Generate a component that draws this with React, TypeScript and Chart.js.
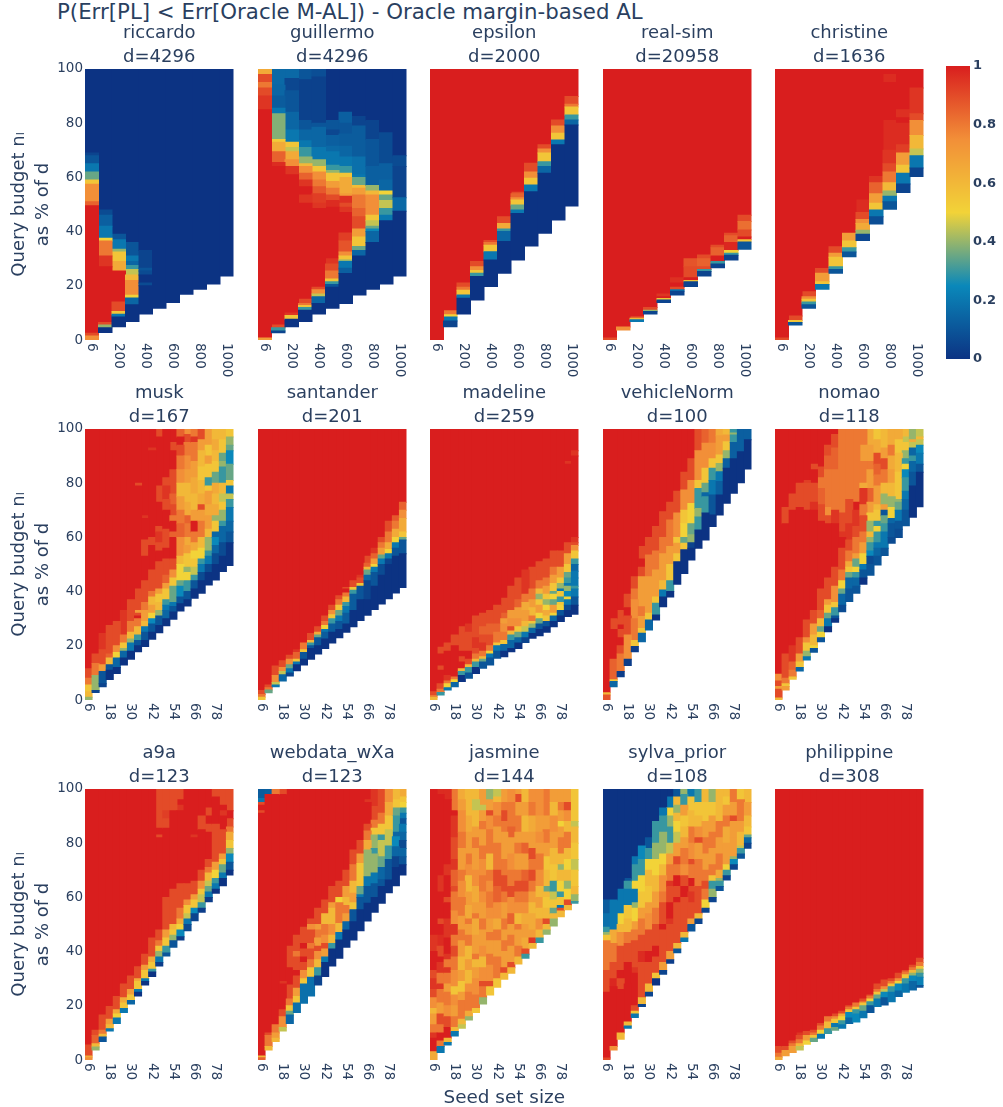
import React, { useEffect, useRef } from "react";
import { Chart, registerables } from "chart.js";

Chart.register(...registerables);

// Each column is [y0, v0, y1, v1, y2, ... yEnd]: value v(i) holds from y(i) to y(i+1). Values are on a 0-10 scale.
const seedLarge = [6, 100, 200, 300, 400, 500, 600, 700, 800, 900, 1000];
const seedSmall = [6, 10, 14, 18, 22, 26, 30, 34, 38, 42, 46, 50, 54, 58, 62, 66, 70, 74, 78, 82, 86];
const tickLarge = [6, 200, 400, 600, 800, 1000];
const tickSmall = [6, 18, 30, 42, 54, 66, 78];
const yTicks = [0, 20, 40, 60, 80, 100];
const colorStops: [number, number, number, number][] = [
  [0, 12, 51, 131], [0.25, 10, 136, 186], [0.5, 242, 211, 56], [0.75, 242, 143, 56], [1, 217, 30, 30],
];

const riccardo = [
  [0,7.5,1.5,9,2.5,10,49.5,8.5,51,7.5,57.5,5.5,59,3.5,62,2,65,1,68,0.5,69,0,100],
  [2.8,0,4.5,4,5.5,9,6.5,10,27,9.5,31,8,36.5,5,37.5,2,42,1.3,46,.7,48,0,100],
  [4.9,0,8.5,2,9.5,5.5,10.5,9,14,10,25.5,6.5,29,5.5,32.5,4,33.5,2,37,1,39,0,100],
  [6.8,0,13,1.5,15.5,5,16.5,7.5,22,6,24,4.5,26,3,27.5,1.5,29,2,31,1,36,0,100],
  [9.6,0,20,.7,21,0,24,.7,25.5,1,26.5,.5,33,0,100],
  [11.7,0,100],[13.8,0,100],[16.9,0,100],[18.7,0,100],[20.7,0,100],[23.6,0,100],
];
const guillermo = [
  [0,7,.7,10,85,9.5,90,9,93,8,95,9,98,6.5,100],
  [2.7,.5,3.3,3,4.5,9,5.5,10,64,9.7,65.5,8.5,69.5,6.5,73,5.3,74,3.8,83.5,2,85.5,1.2,90,1.5,94,1.6,100],
  [4.9,0,7.7,5.5,9,9.5,10,10,61,9.5,64,7.5,66.5,6.5,69.5,4.5,71,5.5,73,2,77.5,1.5,84,1,92,.6,96.5,1.6,100],
  [6.8,0,11,3,12,5.5,12.7,8,13.5,9,15,10,50.5,9.5,53.5,10,56.5,9.5,59,8.5,61.5,7.5,64,6,65,4,67.5,3,71,2,73.5,1.5,77.5,1,81,.4,96,1,100],
  [9.6,0,13.5,1.5,16,4.5,17,7.5,18.5,9,19.5,10,48.5,9.5,50.5,9.3,54,8.7,56.5,8,59,7.5,62,5.5,64,4,66.5,2,71,1.5,78.5,1,80,.4,97,.8,100],
  [11.7,0,19.5,1,20.5,3,21.5,5.5,22.5,8,25.5,9,28,9.5,30,10,49,9.7,51.5,9,53.5,8,56,7,58.5,5.5,61.5,4,62.5,3,64.5,2,69.5,1.6,71.5,1.3,75.5,.6,77.5,1,81,0,100],
  [13.5,0,24.5,1.3,26.5,2,29,4,29.5,5.5,31,7.5,32.5,8.8,36.5,9.3,39.5,10,47,9.5,49,9,50.5,9.6,53,7,54,6.5,60,5.5,61.5,3,64,2,67.5,1.5,71.5,1.2,76,1,80,1.3,84,0,100],
  [16.6,0,31,1.5,33,3.5,34.5,5.5,38,7,41,9,45.5,8.5,48.5,8,53.5,7,56,5.8,57,3.5,60,2,61,1.8,67.5,1.2,79,.5,82.5,0,100],
  [18.7,0,36,1.5,40,2.5,41,3.5,42,4.5,44,5.5,46,7.5,53.5,6,55,4,57,1.3,64,1,74,.5,81,0,100],
  [20.7,0,44,2,46,3,48.5,4.5,51.5,3.5,53.5,5,55,1.5,59,1.3,65,.7,76.5,0,100],
  [23.6,0,47.5,1.6,52.5,.5,64,.7,68,0,100],
];
const epsilon = [
  [0,10,100],
  [4.9,.5,7,2,8.5,5,9.3,8,10.8,10,100],
  [9.6,0,15.4,2,16.6,5.5,18.4,8,19.5,9,21,10,100],
  [14.8,0,23.4,3,24.6,5.5,25.6,7.5,27,9,29,10,100],
  [19.7,0,29.5,2,32.6,5.5,35,8,36,9,36.7,10,100],
  [24.6,0,36.3,1.5,40,3,41,6.5,43,9,45.5,10,100],
  [29.5,0,46.7,2,48,3.5,49.8,5.5,51.7,7.5,52.5,8.5,54,9,54.5,10,100],
  [34.7,0,54.7,2,57.2,5.5,59.7,7.5,62,9,65.2,10,100],
  [39.4,0,61.5,1.5,64,3,65.8,5.5,69,7.5,70.5,9,72,10,100],
  [44.3,0,72,2,73.8,5.5,76.3,7.5,79,9,81.2,10,100],
  [49.4,0,79.3,1.5,81.2,3,83,5.5,86,8,87,9,89.8,10,100],
];
const realSim = [
  [0,9,.7,10,100],
  [3.7,7.5,4.8,10,100],
  [6.8,2,7.5,6,8,9,8.6,10,100],
  [9.6,.5,10.5,4,11,9,12,10,100],
  [13.8,.5,14.8,5.5,15.3,10,16,9.5,17,10,100],
  [16.6,.5,18,2,18.5,9,19.5,10,21,9.6,23,10,100],
  [19.7,.5,21.5,5.5,22,10,23,9,27,8.8,30,10,100],
  [23.6,.5,25.3,3,26,9,27,8.5,30,9,31.4,10,100],
  [26.7,.5,28,3,29,10,31,8.5,34,9,35,10,100],
  [29.5,.5,31.3,3,32,5,33,9.8,36,8.5,38.5,9,39.4,10,100],
  [33.5,1,36.2,5.5,37,10,38,9,40.6,8.2,43.7,9,46,10,100],
];
const christine = [
  [0,9,.7,10,100],
  [5.5,1,6.5,5.5,7.2,9,8.9,10,100],
  [11.7,1,13,3,14,5.5,15,7.5,16,9,17.8,10,100],
  [18.7,2,20.5,5.5,21.5,7,24.6,9,26.4,10,100],
  [24.6,1,26,3,27,5.5,30.5,7,32,9,34.4,10,100],
  [30.7,1,32.5,3,34,5.5,36.5,7,39.4,10,100],
  [36.7,.6,39,4,40.5,6.5,43,7.5,44.5,9,47,9.7,51.7,10,100],
  [42.8,.8,45.5,2,48,5.5,50.5,7,54,8.5,58,9.5,60.3,10,100],
  [48.2,1,51,2,53,4,55,6,58,8,62,9,65,9.5,70,9.7,81,10,95,9.7,98,10,100],
  [54.4,.5,57.6,2,61.5,5.5,64.5,7,69,9.3,72,9.7,80,10,82,9.6,85,10,100],
  [60.3,.5,63.5,2,68,4.5,70.5,6,75.5,7.5,81,9,83.5,9.5,93,10,100],
];
const musk = [
  [0,4,1,6,3,5.5,5.5,8,8,9,11.5,10,100],
  [2.8,.5,3.5,4,9,8,13.5,9,17,10,100],
  [4.9,.5,6,1,10.5,7,13,9,18.5,9.5,24.5,10,100],
  [7.6,0,11,1,13,6,15.5,8.5,17,9,27.5,10,100],
  [9.8,0,12,1.5,15.5,5,17.5,7.5,20,9,29,10,100],
  [12.9,0,15.5,1.5,18,4,19,5.5,21,8,24,9.5,33,10,100],
  [15,0,18,2,21,4,22.5,6,25,8,29,9,37,10,100],
  [17.8,0,20,1,22,3,24,6,27,8,30,10,31,9,32,7,33,9,41,10,79,9,80,10,100],
  [19.7,0,22,1,25,2,27,6,29,7,33,8,36,9,44,10,53,9,59,10,67,9.5,68,10,100],
  [22.4,0,25,1,28,2.5,30,5,32,7,35,6,38,8,40,9,48,10,57,9,60,10,92,9.5,93,10,100],
  [24.8,0,27.5,1,31,4,33,6,36,5.5,39,7,41,9,51,10,55,9,58,9.5,62,9,64,10,73,9,79,10,97,9,100],
  [27.4,0,30,1.5,33,2,35,3,37,5.5,41,7,43,8.5,46,9,52,10,56,9,63,10,70,9,74,9.5,79,9,82,10,100],
  [29.8,0,32.5,1,34.5,2,36,3.5,42,5.5,45,7.5,48,9,52,10,60,8.5,62,10,66,8,68,9,72,8.5,76,9,85,10,92,9,95,10,100],
  [32.8,0,35.5,1,38,2.5,42,3.5,44,5,50,6,53,7.5,60,8.5,65,8,70,7,75,6,80,7.5,85,8,90,9,94,10,97,8.5,100],
  [34.7,0,37,1,40,3,44,5,47,4,49,5.5,54,7,57,6.5,60,8,65,8.5,68,6.5,73,6,80,7,85,7.5,90,8,95,9,98,7.5,100],
  [37.5,0,41,1,44,3,46,4.5,49,5.5,52,5,55,6.5,58,8,62,10,66,7,70,6,76,6.5,82,7,88,8,95,9.5,97,8,100],
  [39.4,0,44,.7,47,2,50,3,52,5,56,6,60,8,66,7,70,9,72,6.5,76,6,81,5.5,86,6,92,7,96,9,100],
  [42.4,0,47,.7,50,2,53,3,55,4,60,6,63,7,68,6.5,72,7,77,5.5,79,3,82,5.5,87,7,90,5.5,94,7,100],
  [44.3,0,50,.7,54,1.5,57,2.5,60,1.5,62,5.5,66,4,68,6.5,72,6,76,6.5,80,3.5,84,5.5,88,6,92,6.5,96,6,100],
  [47.4,0,53,.7,58,1.5,64,3,66,4,70,5.5,73,4.5,76,6,80,3,86,4,88,3.5,91,5.5,96,6,100],
  [49.6,0,58,1,62,1.5,66,2,71,3,74,4.5,76,2,79,5.5,81,3.5,87,2.5,92,3.5,94,4,97,5.5,100],
];
const santander = [
  [0,5.5,1,8,2,9,3.5,10,100],
  [2.7,3.5,3.7,8,4.5,9,5.5,10,100],
  [4.9,2,5.5,4.5,6.5,7.5,9,9,12.5,10,100],
  [7,1.5,9.3,4.5,10.5,7.5,12,9,14.5,10,100],
  [8.9,.5,10,2,11.5,3.5,13,7.5,15,9,16.5,10,100],
  [10.8,0,13,2,14,5.5,15,8.5,17.5,9.5,18.5,10,100],
  [12.9,0,15,1,17.5,5.5,18.5,8,21,10,100],
  [15,0,19,1,20,3,21,6,22,9,24.5,10,100],
  [17,0,20,1,23,3.5,24,6.5,25,9,27,10,100],
  [19,0,22.5,1.2,25,2,26,5,27.5,8,29,9,31,10,100],
  [21,0,25,1.2,28,3,30,5.5,31.5,7.5,33,9,35,10,100],
  [23,0,26,1,29,2,31,3.5,33,5.5,35,8,37,9,38.5,10,100],
  [25,0,28,1.2,32,2,34.5,3,36,6,38,8,39.5,10,41,9,41.5,10,100],
  [27,0,33,1.2,39,3,40.5,5.5,41.5,9,44,10,100],
  [29.3,0,37,1,42,5.5,43,9,45,9.5,46,10,100],
  [31.3,0,37,.5,44,1.5,46,3.5,48,6,49,8.5,50.5,9,53,10,100],
  [33.4,0,42,1,47,2,49,5,50,7,52,8.5,54,9.5,56,10,100],
  [35.4,0,46,.7,50,2,52,3.5,53.5,7,56,8,58,9,60,10,100],
  [37.4,0,50,.5,52,2,54,5,55.5,6.5,58,8,62,9,66,10,100],
  [39.5,0,53,1,56,2,58,5,60,6.5,63,8,66,8.7,68,10,100],
  [41.5,0,54,1,59,3.5,60,5.5,62,6.5,67,7.5,70,8.5,73,10,100],
];
const madeline = [
  [0,6,1,8,1.7,9,3,10,100],
  [1.8,3,2.8,8,4,9,6,10,11,9,12.5,10,17,9,19.5,10,100],
  [3.7,2,4.5,5,6,8,7,9.5,9,10,18,9,21,10,100],
  [4.9,1.5,6.5,5,7.5,8,8.5,10,20,9,24,10,100],
  [6.8,0,9,3,10.5,6,11.5,10,14,9,16,10,18,9,27,10,100],
  [8,1,10,3,12,6,13,9,15,10,18,9,25,9.5,28,10,100],
  [9.8,0,12,3,14,6,15,8,17,9,19,9.5,23,9,31,10,100],
  [11.7,1,14,3.5,15,6,16,8,18,9.5,21,9,24,8.5,27,9,32,10,100],
  [12.9,1,15.5,2,17,5,18,8,20,9,24,8.5,28,9,33,10,100],
  [15.4,1,18,2,20,5.5,21,8,25,8.5,28,9,35,10,100],
  [16,0,18,1.5,20.5,5.5,22,8,25,7.5,28,7,30,8.5,32,9,37.5,10,100],
  [17.8,0,19,1.5,22,3,24,6,25.5,9,27,7.5,30,7,33,9,42,10,100],
  [19,0,21,1.5,23,3.5,25,5.5,27,7.5,30,7,34,8.5,37,9,45,10,100],
  [21.2,.5,23,2,25,4.5,27,6,29,7,33,6.5,36,8,39,9.5,48,10,100],
  [22.8,0,24.5,1.5,26.5,4,28,5.5,29,8,31,6,34,7,37,8,41,9,49,10,100],
  [23.7,0,26,1,28,3.5,30,5,32,7,35,5.5,37,4,39,6,41,8,44,9,51,10,100],
  [25,0,27,1,29,5.5,31,6.5,33,5,35,4,37,5.5,39,7,42,8,45,9,52,10,100],
  [27,0,29,1.5,31,5,32,7,35,3.5,37,5,39,3.5,40,5.5,43,7,46,8,49,9,55,10,100],
  [29,0,31,1,33,5,35,5.5,36,3,38,5.5,40,2,41,4,43,5.5,45,7,49,9,55,10,100],
  [30.8,0,33,.7,35,2,37,5,38,2.5,40,4,42,2,43,3,45,3.5,47,5.5,50,7,54,9,58,10,87,9.5,88,10,100],
  [31.6,0,35,1,38,2,41,3,42,2,45,2,47.5,1.5,50,3,52,5.5,55,7.5,57,9,58,9.5,60,10,90,9.5,92,10,100],
];
const vehicleNorm = [
  [0,8.8,1.8,6,2.7,10,100],
  [4.9,1.5,6.8,5.5,7.5,8.5,15,10,26,9,30,10,100],
  [8.6,.3,10.5,8,17,9,20,10,23,9,26,10,27.7,9,33,10,100],
  [12.7,.3,15,7.5,24,9,31,10,34,9,39,10,100],
  [17.8,.3,19.7,5.5,22,8,30,7.5,37,8,41,9,45.5,10,100],
  [21.5,1.5,24.6,5.5,26.4,7,30.8,8,34.4,7,45.5,9,49,10,52,9,56.6,10,100],
  [25.8,1.5,29.5,5.5,32,7,45.5,8,53.5,9,60,10,100],
  [29.5,0,31.4,3,35.7,5.5,38,7,48,8,55,9,64,10,100],
  [34.4,0,38,2,40.6,6,44,7,54,8,60,9,69.5,10,100],
  [38,0,40,3,44,5.5,50,7,56.6,8,66.4,9,73,10,100],
  [42.7,0,51,5.5,54,7,57.8,5.5,60,7.5,69,9,77,10,100],
  [46.7,0,55.4,5.5,57.8,3.5,60,5,65,5.5,70,7.5,77.5,9,84,10,100],
  [51.7,0,56,.5,58,4,61,3.5,65,5,72.5,7.5,81,9,89,10,100],
  [56,0,62.7,3,67.5,4,70.7,3,78,5.5,81,7.5,92,9,100],
  [59,0,69,3,75,1.5,76.5,3.5,80,5.5,85.5,7.5,94.7,8.5,100],
  [64,0,68.3,1,75.6,2,81,3,85.5,5.5,89,7.5,94.7,8,100],
  [68.3,0,75.6,1.3,80.6,2,84.2,4,87.3,5.5,90.4,7,97.5,6.5,100],
  [72.6,0,85.5,1.3,89,4,92,5.5,95.3,7,97.8,6,100],
  [76.3,0,89,1.3,95,3,97.8,4,98.5,3,100],
  [80.2,0,91.6,1.3,100],
  [85.2,0,96,1.3,100],
];
const nomao = [
  [0,6,.7,9,4,7,5,9,7,7.5,9.5,10,100],
  [3.7,7,5,5.5,6,8,8,9,17,10,65,9,71,10,100],
  [7.7,5.5,8.5,8,11,8.5,14,9.5,20,10,70,9,76,10,100],
  [10.7,1.5,12,5.5,14,7,17,9,23,10,71,9,80,10,100],
  [14.8,2,16,4,18,5.5,21,7.5,23,9,29.5,10,70,9,80,9.3,81,10,100],
  [17.6,1,19,5,20,6,24,7,28,9,33,10,70,9.6,73,9,80,10,85,9,87,10,100],
  [21.5,1,23,5,25,3.5,27,6,30,8.5,33,9,41,10,66,9,72,8.5,78,8,82,9,86,10,100],
  [25.2,0,27,2,30,3.5,32,5.5,35,7,37,9,45,10,65,9,68,7.5,71,8,85,8.5,90,9,94,10,100],
  [28.7,0,30,1,31,3,34,5.5,36,7.5,42,9,49,10,65,9.5,70,8,85,8.5,93,9,98,10,100],
  [32.6,.7,35,1.5,39,3.5,41,5,44,8,48,9,56,10,60,9.5,62,9,69,8,100],
  [36.3,1,41,1.5,45,3.5,47,5.5,49,6.5,51,8,55,9,59,9.5,65,9,74,8,100],
  [39.4,1,42,1.5,45,3,47,5,49,3.5,52,7,54,8,60,9,64,9.5,70,10,73,8,100],
  [42.7,0,45,1,48,2,50,5,54,7,58,8,62,9,68,8,72,9.5,78,6.5,80,8,88,7,94,8,100],
  [46,1,50,.7,53,2.5,55,3,58,4,60,6,62,4,66,5.5,69,7,73,8.5,78,7,85,8,88,7,94,6.5,100],
  [49.8,1,53,1.5,56,2,58,3,62,5,64,3,66,5.5,70,6,72,7,79,8,83,8.5,87,9,91,6.5,96,5.5,100],
  [53.3,1,56,2,62,3,65,3.5,68,1,70,7,72,4,76,6,80,8,85,9,89,7,93,6,100],
  [57.8,.7,60,1,65,1.5,67,5,71,4,75,6,80,7,85,6.5,90,8,94,6.5,100],
  [60,.7,63,1,66,2,70,3.5,73,4,74,5.5,84,6,91,5.5,96,6.5,100],
  [64.3,1,70,1.5,74,2,77,3,82,2.5,85,5,87,3,89,4,92,5.5,95,4.5,97,6,100],
  [67.4,0,79,1,84,1.5,88,3,90,1.5,93,4.5,95,6.5,96,4,100],
  [71.3,0,84,1,87,2,91,2.5,94,4.5,96,6,97,4.5,100],
];
const a9a = [
  [0,7.5,.8,6.5,1.5,9,5.5,10,100],
  [3.7,4,4.8,6,6,8.5,9,9,11,10,100],
  [6.8,1,8.5,6,9.5,8,11,9,16.6,10,100],
  [10.7,2,11.5,6,13,7,15,9,19.7,10,100],
  [13.5,2,15.5,5,17,6.5,18.5,9,23.4,10,100],
  [17.5,2,19,5.5,21,6.5,23,9,28,10,100],
  [20.7,1.5,22,5.5,24,7,26,9,31,10,100],
  [23.6,0,25,2,26,5.5,29,6.5,30,9,34.4,10,100],
  [27.7,0,29,2,30,5.5,33,7,35,9,39,10,100],
  [30.8,0,32.5,3,33.5,5.5,36,6.5,38,9,45,10,100],
  [34.7,.3,36,2,38,4,40,5.5,42,8,44,9,48,10,82,9,83,10,85.5,9,100],
  [38.4,1,39.5,3,42,5.5,45,7,48,9,60,10,85.5,9,89,9.3,92,9,100],
  [41.6,1,44,4,46,5.5,48,6,50,9,63,10,92,9,100],
  [44.3,.3,45.5,2.5,48,5,50,6.5,52,8,56,9,65,10,92,9.5,94,10,96,9,100],
  [47.7,.7,50,2,52,4.5,54,5.5,57,7.5,59,9,65,10,100],
  [51.4,.5,54,2.5,56,5.5,59,7,61,9,66,10,82,9.5,83,10,100],
  [54.5,.3,56,3,58,4.5,61,5.5,63,7.5,66,9,70,10,85,9,90,10,100],
  [58.4,.3,60,2,62,3.5,64,4.5,66,6,69,8,71,9,74,10,84,9,87,10,90,9,93,10,100],
  [61.5,0,63,2,65,3,67,5,70,7,73,9,87,10,97,9,100],
  [64.3,0,67,2,69,3.5,72,5.5,74,7,76,9,85,10,90,9.5,92,10,94,9,100],
  [68.3,0,70,1,73,2.5,76,4,78,5.5,81,6.5,84,8,86,9,89,10,92,9,100],
];
const webdata = [
  [0,8.5,.8,6,1.5,10,91,9,92,10,94,9,95,2,96.5,1.2,100],
  [3.7,6,5,8,9,9,10,10,98,1.3,100],
  [6.8,6,8,7,10,8,13,10,98,8,100],
  [10.7,4.5,12,7.5,16,9,18.5,10,28,9.5,29,10,98,9,100],
  [13.5,1.5,16.6,3.5,18,5.5,20,8,22.5,9,27.7,10,34,9,42,10,100],
  [17.5,1.8,21,5.5,23.4,7,26.5,9,31,10,33,9,38,8,40,9,46,10,100],
  [20.9,1.8,28,5.5,30,7.5,33,9,36,10,38,9,41,10,43,9,49,10,100],
  [23.6,1.8,30.5,5.5,34,8,37,9,41,8,43,9,48,7.5,50,9,52,10,100],
  [27.7,.5,31,3,34,6,37,7.5,40,9,42,7,45,8,48,7,50,9,56,10,100],
  [30.8,0,36,2,38,7,41,9,43,7.5,46,8,50,6,54,9,59,10,100],
  [34.7,0,41,3,43,6,46,7.5,50,6,56,7,58,9,64,10,100],
  [37.5,0,44.3,2,47,6,50.4,8,58,5,60,9,66,10,100],
  [41.6,0,48,1.5,51,7,54,8,57,6,60,7,64,9,70,10,100],
  [44.3,0,51,1,55.4,5.5,58,7,61.5,6,66,8,72,9,77.5,10,100],
  [47.7,0,55.4,1,60,2,61,3.5,64,5.5,72.5,7,76,9,81,10,100],
  [51.3,0,57.8,1,64,2,67.6,4,77.5,6.5,81,8,84.5,9,87,10,95,9.5,96,10,100],
  [54.5,0,60,1,65,2,69,4,76,3,78,4,83,5.5,85.5,8,88.5,9,93.5,9.5,100],
  [57.8,0,64,1,66.5,1.5,71,3.5,75,4.5,81,3,83,5.5,87,8,91,9,100],
  [61.7,0,66.4,1,74,3,79,4.5,85,5.5,90,6.5,95,7.5,100],
  [64.3,0,71,.5,75,1.5,78.7,2.5,82.4,1.5,84,3,90,3.5,93,5.5,96,6,100],
  [68.3,0,72,1,75,1.5,78,.7,81,1.5,84,2,87,1,89,2,91,3,93,5,95,5.5,97,6.5,100],
];
const jasmine = [
  [0,6.5,3,10,8,9.5,10,8,13,7,17,6,19,7.5,23,9,26,9.5,30,9,33,10,40,9.5,46,10,100],
  [2.8,2,5,8,7,10,10,8,13,9,17,7,21,8,26,9.5,28,8,32,9.5,36,10,38,9,42,9.7,46,10,50,9,52,10,62,9.5,68,10,98,9.7,100],
  [5.5,2,6.5,6,8,10,12,9,16,7.5,20,8,25,7,28,8,32,9.5,34,8,37,9.5,39,10,45,9.5,52,10,58,9,60,10,68,9.5,72,10,96,9.7,100],
  [8.9,2,10.5,6,12,8,16,7,20,7.5,24,5.5,27,7.5,33,8,38,9,42,8,46,9.5,50,7.5,55,8,62,9,64,8.5,70,9.5,74,9,82,9.5,90,10,92,8,100],
  [11.7,4.5,13,6,15,8,22,7,25,5.5,29,7,33,6,38,7,44,8,48,7,53,8,60,7.5,66,8,70,7,78,8,84,7.5,92,7,96,6.5,100],
  [14.8,4,16,6.5,18,8,25,7.5,28,6,33,7,37,6,42,8,46,7,50,8,52,6.5,57,7,62,6,68,7.5,72,8,76,7,84,6.5,90,6,100],
  [17.5,5.5,19,8,24,7.5,30,7,34,6,37,8,39,7,46,6.5,52,8,54,7,58,6.5,64,7.5,70,7,78,8,82,7,86,6,92,4.5,96,6,100],
  [20.7,4,23,8,27,9,29,7.5,34,6,38,7.5,42,7,48,8,52,7,58,7.5,62,8,68,7.5,74,8,79,7,85,8,88,7,92,4.5,94,7,100],
  [24,5.5,27,9,29,7.5,35,8,39,7,44,8,47,7,52,7.5,56,8,62,7.5,66,8,70,6,76,8,85,7.5,90,9,92,7,96,4,100],
  [26.8,5.5,30,8,38,7,44,8,48,6.5,52,7.5,58,8.5,64,9,70,8,80,7,86,8,90,7.5,95,6,97,4.5,100],
  [29.8,6,32,9,34,7,40,8,44,7,48,8,52,7,58,8,62,9,68,8,74,7,84,8,88,9,92,8,95,7,100],
  [32,6,34,9,36,7,42,8,46,7,50,8.5,54,7.5,60,9,64,8,70,7.5,76,7,82,8.5,86,8,95,7.5,100],
  [35.4,6,38,8,42,7,48,8,50,6,54,7.5,58,8,62,9,66,8,70,7,76,8,80,7,84,8,90,7,95,9,98,7,100],
  [37.5,3,39,9,41,6.5,45,7,50,6.5,54,7.5,58,8,62,9,66,8.5,70,7,76,8.5,80,7,84,6,90,7,95,6,100],
  [41.2,6,43,9.5,45,7,48,6.5,54,6,58,7,62,8,66,9,70,8,74,9,78,7,84,6.5,90,8,95,7.5,100],
  [43.4,3,45,6,48,7.5,52,6,56,7,60,6,64,7.5,70,8,76,7,80,7.5,84,7,90,7.5,100],
  [46.4,4,48,6,50,9,52,6,56,5.5,60,6,62,3.5,64,6,70,5.5,75,7,80,8,85,7,90,8,100],
  [49.4,4,52,6,54,3.5,56,5.5,59,4.5,62,3,66,5.5,72,6,78,7,84,7.5,90,6,95,7,100],
  [52.9,6,55,9,56,2,57,5.5,60,3,62,5,66,6,70,4,72,6,76,8,82,7,86,5,88,7,92,8,95,7,100],
  [55.4,6,57,9,59,5,63,4,66,6,70,5,74,6,78,8,84,6,88,7.5,92,9,95,7,100],
  [57.8,3,58.5,4,61,6,64,5.5,70,4.5,74,5.5,80,6,86,4.5,88,5.5,100],
];
const sylva = [
  [0,9,.7,10,25,9,33,8,44,5.5,46,4,47,3,49,1.8,54,1.2,59,0,100],
  [3.7,7.5,5,10,27,9.8,30,9,36,8,43,6.5,48,2,59,0,100],
  [7.7,6,10,10,26,9,30,10,33,9,42,7.5,47,6,50,5,54,2,63,0,100],
  [11.7,2,12.5,6,14,10,28,10,36,9,43,8,47,6,52,5.5,57,2,63,3,66,1,67,0,100],
  [15.7,2,17,5.5,18,9,20,10,32,9.5,34,9,44,8,48,7,51,5,56,4,58,2,63,5,66,3,72,2,75,0,100],
  [19.7,.5,20.5,6,23,9,36,9.7,40,9,46,8,52,7,56,5.5,62,5,68,3,74,2.5,79,0,100],
  [23.6,.5,25,6,28,9,36,10,40,9,48,7.5,54,7,58,5.5,64,6,70,5,74,3,78,1,82,0,100],
  [27.7,0,30,5.5,32,9,38,10,42,9,50,8,56,7,62,6,68,5,74,4,80,3,88,0,100],
  [31.6,.5,33,7,36,9,48,10,50,9,58,8,62,7.5,68,6,72,5,76,4,84,3,90,2,93,0,100],
  [35.7,.3,37,7,40,9,50,9.5,52,10,58,9,64,9.5,66,8,72,7,76,4.5,80,3,86,4,90,5,93,2,97,0,100],
  [39.6,1,41,6,43,9,58,10,60,9,64,10,68,8,72,9,75,7,80,4.5,84,5,88,6,91,4,94,6,97,1,100],
  [43.7,2,45,6,47,9,60,10,64,9,68,7.5,72,8,78,7,82,6,86,5.5,90,7,94,3,98,4,100],
  [47.6,1,50,7,52,9,58,9.5,62,9,64,10,67,8,72,9,74,7.5,80,8,86,6,92,5.5,97,2,100],
  [50.4,.5,52,6,54,9,64,8,74,7,80,9,82,7.5,86,6,90,5.5,95,3,100],
  [54.5,.5,56,5,59,8,63,9,66,8,70,7,76,8,82,7,88,5.5,95,6,100],
  [58.4,.5,60,4,63,3,66,5.5,68,8,72,7,78,8,84,7,90,5.5,95,4,100],
  [62.5,1,64,3,66,4,67,6.5,70,8,76,7,82,8,88,6,100],
  [66.4,.5,68,3,70,5,72,7,80,6.5,86,8,90,7,94,5.5,97,6,100],
  [70.4,.5,72,2.5,74,4,75,7,82,7,88,9,90,7,95,8,100],
  [74.4,1,76,3,78,4.5,79,6,84,7,88,8,96,5.5,100],
  [78.1,.5,80,1.5,82,3.5,83,5.5,86,6,90,7,95,6,100],
];
const philippine = [
  [0,6.5,1,8,2.5,9,5,10,100],
  [1.6,7,3.5,9,5,10,100],
  [2.8,7,5,8,6,9,7,10,100],
  [3.7,4.5,5,6,6,8,7.5,9,9,9.5,10,10,100],
  [5.8,5,7,7,9,9,10.5,10,100],
  [6.8,3.5,8,5.5,9,8,10,9,11,10,100],
  [8,2,9.5,5,11,8,12.5,9,13.5,10,100],
  [9.8,3,11.5,6,14,8,16,10,100],
  [11,3.5,12,2,13.5,5.5,15,7.5,16,9,17,10,100],
  [11.7,2,13,3,14.5,5,16,6.5,17,9,18,10,100],
  [13.5,1.5,15.5,2.5,17.5,5.5,18.5,8,19.5,9,20,10,100],
  [14,2.5,17,3,18.5,5.5,19.5,8,21,10,100],
  [15.6,2,18,3.5,20,5.5,21,8,21.5,9,22.5,10,100],
  [17.5,1,20,3,21.5,5,22.5,8,23.5,9,24,10,100],
  [19.7,2,22.5,3.5,24,5.5,25,8,26,9,28,10,100],
  [20.3,1,23,2.5,25,4.5,26,7.5,27,9,29.5,10,100],
  [21.5,2,25,3,27,5.5,28,8,29,9,30,10,100],
  [23.4,1.5,25.5,2.5,28,5,29,7.5,30,9,32,10,100],
  [25,2,28,3,30,5.5,31.5,8,32.5,9,33,10,100],
  [25.8,1.5,29,2.5,31,4,32,6,33,8,34,9,35,10,100],
  [26.8,1,27.5,2.3,30.5,3,32,4,33.5,5.5,34.5,8,36,9,37.5,10,100],
];

const panelNames = [
  "riccardo", "guillermo", "epsilon", "real-sim", "christine",
  "musk", "santander", "madeline", "vehicleNorm", "nomao",
  "a9a", "webdata_wXa", "jasmine", "sylva_prior", "philippine",
];
const panelDims = [4296, 4296, 2000, 20958, 1636, 167, 201, 259, 100, 118, 123, 123, 144, 108, 308];
const panelData = [
  riccardo, guillermo, epsilon, realSim, christine,
  musk, santander, madeline, vehicleNorm, nomao,
  a9a, webdata, jasmine, sylva, philippine,
];

const INK = "#2a3f5f";
const FONT = "'DejaVu Sans', Verdana, sans-serif";
const colLefts = [85, 258, 430, 602.5, 774.5];
const rowTops = [69, 429, 789];
const PLOT_W = 148.5;
const PLOT_H = 271;
const HEAD = 52;
const FOOT = 50;

function colorOf(v: number): string {
  const t = Math.min(1, Math.max(0, v / 10));
  for (let i = 1; i < colorStops.length; i++) {
    const a = colorStops[i - 1];
    const b = colorStops[i];
    if (t <= b[0]) {
      const f = (t - a[0]) / (b[0] - a[0]);
      const mix = (k: number) => Math.round(a[k] + (b[k] - a[k]) * f);
      return `rgb(${mix(1)},${mix(2)},${mix(3)})`;
    }
  }
  return "rgb(217,30,30)";
}

function buildDatasets(columns: number[][]) {
  const depth = Math.max(...columns.map((c) => (c.length - 1) / 2));
  const sets = [];
  for (let j = 0; j < depth; j++) {
    sets.push({
      data: columns.map((c) => (2 * j + 2 < c.length ? [c[2 * j], c[2 * j + 2]] : null)),
      backgroundColor: columns.map((c) => (2 * j + 2 < c.length ? colorOf(c[2 * j + 1]) : "rgba(0,0,0,0)")),
      borderWidth: 0,
      inflateAmount: 0.5,
      grouped: false,
      barPercentage: 1,
      categoryPercentage: 1,
    });
  }
  return sets;
}

const rotatedTicks = (labels: number[]) => ({
  id: "rotatedTicks",
  afterDraw(chart: any) {
    const scale = chart.scales.x;
    const ctx = chart.ctx;
    ctx.save();
    ctx.fillStyle = INK;
    ctx.font = `13.5px ${FONT}`;
    ctx.textAlign = "left";
    ctx.textBaseline = "middle";
    for (const label of labels) {
      const idx = chart.data.labels.indexOf(label);
      ctx.save();
      ctx.translate(scale.getPixelForValue(idx), chart.chartArea.bottom + 3);
      ctx.rotate(Math.PI / 2);
      ctx.fillText(String(label), 0, 0);
      ctx.restore();
    }
    ctx.restore();
  },
});

function Panel({ index }: { index: number }) {
  const ref = useRef<HTMLCanvasElement>(null);
  const col = index % 5;
  const row = Math.floor(index / 5);
  const leftPad = col === 0 ? 85 : 60;
  const plotLeft = colLefts[col];
  const canvasLeft = plotLeft - leftPad;
  const canvasTop = rowTops[row] - HEAD;
  const width = Math.ceil(leftPad + PLOT_W + 6);
  const height = HEAD + PLOT_H + FOOT;
  useEffect(() => {
    const large = row === 0;
    const chart = new Chart(ref.current!, {
      type: "bar",
      data: {
        labels: large ? seedLarge : seedSmall,
        datasets: buildDatasets(panelData[index]) as any,
      },
      plugins: [rotatedTicks(large ? tickLarge : tickSmall)],
      options: {
        animation: false,
        responsive: false,
        devicePixelRatio: 1,
        layout: { padding: { top: 4.6, right: width - leftPad - PLOT_W, left: 0, bottom: 0 } },
        plugins: {
          legend: { display: false },
          tooltip: { enabled: false },
          title: {
            display: true,
            fullSize: false,
            text: [panelNames[index], `d=${panelDims[index]}`],
            color: INK,
            padding: { top: 0, bottom: -0.5 },
            font: { family: FONT, size: 18, weight: "normal", lineHeight: 1.33 },
          },
        },
        scales: {
          x: {
            type: "category",
            grid: { display: false, drawTicks: false },
            border: { display: false },
            ticks: { display: false },
            title: {
              display: index === 12,
              text: "Seed set size",
              color: INK,
              padding: 0,
              font: { family: FONT, size: 18.4, lineHeight: 1.3 },
            },
            afterFit: (s: any) => { s.height = FOOT; },
          },
          y: {
            type: "linear",
            min: 0,
            max: 100,
            grid: { display: false, drawTicks: false },
            border: { display: false },
            afterBuildTicks: (s: any) => { s.ticks = yTicks.map((value) => ({ value })); },
            ticks: {
              display: col === 0,
              color: INK,
              padding: 2,
              font: { family: FONT, size: 13.5 },
            },
            title: {
              display: col === 0,
              text: ["Query budget n\u2097", "as % of d"],
              color: INK,
              padding: { top: 7, bottom: 0 },
              font: { family: FONT, size: 18, lineHeight: 1.36 },
            },
            afterFit: (s: any) => { s.width = leftPad; },
          },
        },
      } as any,
    });
    return () => chart.destroy();
  }, []);
  return (
    <canvas
      ref={ref}
      width={width}
      height={height}
      style={{ position: "absolute", left: canvasLeft, top: canvasTop, width, height, display: "block" }}
    />
  );
}

function ColorBar() {
  const ref = useRef<HTMLCanvasElement>(null);
  useEffect(() => {
    const chart = new Chart(ref.current!, {
      type: "bar",
      data: {
        labels: ["P"],
        datasets: [{
          data: [[0, 1]],
          borderWidth: 0,
          barPercentage: 1,
          categoryPercentage: 1,
          backgroundColor: (ctx: any) => {
            const area = ctx.chart.chartArea;
            if (!area) return "#000";
            const g = ctx.chart.ctx.createLinearGradient(0, area.bottom, 0, area.top);
            colorStops.forEach((s) => g.addColorStop(s[0], `rgb(${s[1]},${s[2]},${s[3]})`));
            return g;
          },
        }] as any,
      },
      options: {
        animation: false,
        responsive: false,
        devicePixelRatio: 1,
        layout: { padding: { top: 16, bottom: 21, left: 16, right: 0 } },
        plugins: { legend: { display: false }, tooltip: { enabled: false }, title: { display: false } },
        scales: {
          x: { display: false },
          y: {
            type: "linear",
            position: "right",
            min: 0,
            max: 1,
            grid: { display: false, drawTicks: false },
            border: { display: false },
            ticks: {
              stepSize: 0.2,
              color: INK,
              padding: 3,
              font: { family: FONT, size: 13, weight: "bold" },
              callback: (v: any) => String(Number(Number(v).toFixed(1))),
            },
            afterFit: (s: any) => { s.width = 33; },
          },
        },
      } as any,
    });
    return () => chart.destroy();
  }, []);
  return (
    <canvas
      ref={ref}
      width={73}
      height={330}
      style={{ position: "absolute", left: 930, top: 50, width: 73, height: 330, display: "block" }}
    />
  );
}

export default function App() {
  return (
    <div style={{ position: "absolute", left: 0, top: 0, width: 1003, height: 1107, background: "#fff", overflow: "hidden" }}>
      <div style={{ position: "absolute", left: 57, top: 0, font: `21.3px ${FONT}`, lineHeight: "24px", color: INK, whiteSpace: "nowrap" }}>
        {"P(Err[PL] < Err[Oracle M-AL]) - Oracle margin-based AL"}
      </div>
      {panelNames.map((_, i) => <Panel key={i} index={i} />)}
      <ColorBar />
    </div>
  );
}
